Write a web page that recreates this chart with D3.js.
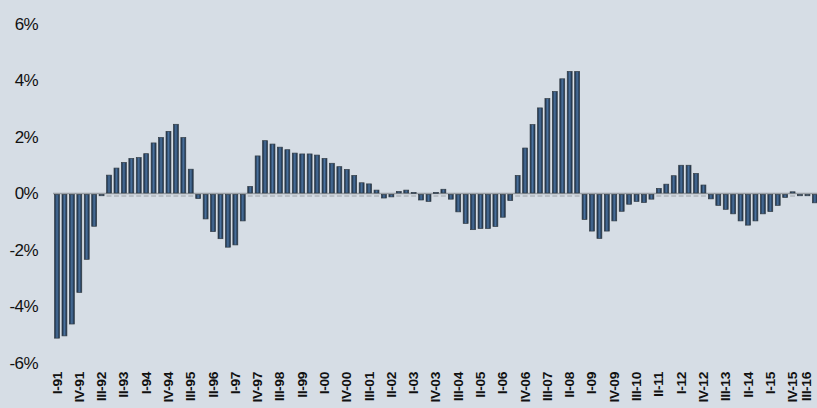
<!DOCTYPE html>
<html>
<head>
<meta charset="utf-8">
<script src="https://cdn.jsdelivr.net/npm/d3@7"></script>
<style>
  html, body { margin: 0; padding: 0; background: #d6dde5; overflow: hidden; }
  svg { display: block; }
</style>
</head>
<body>
<div id="chart"></div>
<script>
// quarterly series, I-91 .. III-16 (percent)
const quarterNames = ["I", "II", "III", "IV"];
const years = ["91","92","93","94","95","96","97","98","99","00","01","02","03",
               "04","05","06","07","08","09","10","11","12","13","14","15","16"];
const values = [
  -5.12, -5.04, -4.62, -3.5, -2.33, -1.16, -0.08, 0.65, 0.9, 1.1,
  1.24, 1.27, 1.41, 1.79, 1.98, 2.2, 2.45, 1.98, 0.86, -0.18,
  -0.9, -1.35, -1.6, -1.9, -1.82, -0.97, 0.25, 1.33, 1.87, 1.75,
  1.64, 1.55, 1.43, 1.4, 1.4, 1.36, 1.24, 1.07, 0.95, 0.85,
  0.64, 0.38, 0.34, 0.12, -0.16, -0.12, 0.07, 0.12, 0.04, -0.23,
  -0.28, 0.04, 0.15, -0.2, -0.65, -1.06, -1.28, -1.24, -1.24, -1.17,
  -0.84, -0.25, 0.64, 1.61, 2.44, 3.03, 3.36, 3.61, 4.06, 4.32,
  4.32, -0.92, -1.33, -1.59, -1.33, -0.97, -0.63, -0.38, -0.28, -0.32,
  -0.2, 0.18, 0.33, 0.63, 1.0, 1.0, 0.71, 0.3, -0.19, -0.42,
  -0.56, -0.72, -0.97, -1.12, -0.97, -0.72, -0.64, -0.42, -0.14, 0.06,
  -0.08, -0.08, -0.33
];
const yTicks = [-6, -4, -2, 0, 2, 4, 6];

// category labels like "III-07"
const categories = [];
years.forEach(yr => quarterNames.forEach(q => categories.push(q + "-" + yr)));
categories.length = values.length;
const data = categories.map((c, i) => ({ cat: c, value: values[i] }));

const width = 817;
const height = 408;

const svg = d3.select("#chart")
    .append("svg")
    .attr("width", width)
    .attr("height", height);

const defs = svg.append("defs");
const grad = defs.append("linearGradient")
    .attr("id", "barGrad")
    .attr("x1", "0%").attr("x2", "100%")
    .attr("y1", "0%").attr("y2", "0%");
grad.append("stop").attr("offset", "0%").attr("stop-color", "#16263a");
grad.append("stop").attr("offset", "50%").attr("stop-color", "#4b73a0");
grad.append("stop").attr("offset", "100%").attr("stop-color", "#16263a");

const step = 7.43;
const x = d3.scaleBand()
    .domain(categories)
    .range([53.3, 53.3 + step * categories.length])
    .paddingInner(0.34)
    .paddingOuter(0.17);

const y = d3.scaleLinear()
    .domain([-6, 6])
    .range([363, 24]);

// y axis labels
const yAxis = svg.append("g")
    .attr("transform", "translate(38,0)")
    .call(d3.axisLeft(y).tickValues(yTicks).tickSize(0).tickPadding(0).tickFormat(d => d + "%"));
yAxis.select(".domain").remove();
yAxis.selectAll("text")
    .attr("font-family", "Liberation Sans, Arial, sans-serif")
    .attr("font-size", "17px")
    .attr("fill", "#111")
    .attr("letter-spacing", "-0.6px");

// zero line
svg.append("line")
    .attr("x1", 53).attr("x2", width)
    .attr("y1", y(0)).attr("y2", y(0))
    .attr("stroke", "#9aa0a6")
    .attr("stroke-width", 1.5);

// small dashes under positive bars
svg.append("g")
    .selectAll("line")
    .data(data.filter(d => d.value > 0))
    .join("line")
    .attr("x1", d => x(d.cat))
    .attr("x2", d => x(d.cat) + x.bandwidth())
    .attr("y1", y(0) + 2.5)
    .attr("y2", y(0) + 2.5)
    .attr("stroke", "#9aa0a6")
    .attr("stroke-width", 1);

// bars
svg.append("g")
    .selectAll("rect")
    .data(data)
    .join("rect")
    .attr("x", d => x(d.cat))
    .attr("width", x.bandwidth())
    .attr("y", d => d.value >= 0 ? y(d.value) : y(0) + 1)
    .attr("height", d => Math.max(1, Math.abs(y(d.value) - y(0)) - (d.value >= 0 ? 0.5 : 1)))
    .attr("fill", "url(#barGrad)")
    .attr("stroke", "#333d46")
    .attr("stroke-width", 0.7);

// x axis labels, every third quarter, rotated
const tickCats = categories.filter((c, i) => i % 3 === 0);
const xAxis = svg.append("g")
    .attr("transform", "translate(0,372)")
    .call(d3.axisBottom(x).tickValues(tickCats).tickSize(0));
xAxis.select(".domain").remove();
xAxis.selectAll("text")
    .attr("x", 0)
    .attr("y", 0)
    .attr("dy", "0.36em")
    .attr("transform", "rotate(-90) scale(1.1,1)")
    .attr("text-anchor", "end")
    .attr("font-family", "Liberation Sans, Arial, sans-serif")
    .attr("font-weight", "bold")
    .attr("font-size", "12.5px")
    .attr("letter-spacing", "-0.3px")
    .attr("fill", "#111");

// keep the last label inside the right edge
xAxis.selectAll(".tick")
    .filter((d, i, n) => i === n.length - 1)
    .select("text")
    .attr("dy", "-0.3em");
</script>
</body>
</html>
